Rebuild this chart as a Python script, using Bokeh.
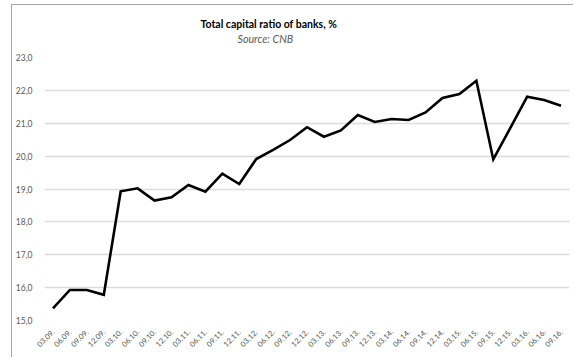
import math
from bokeh.plotting import figure
from bokeh.models import FactorRange, Range1d, FixedTicker, Title
from bokeh.embed import file_html
from bokeh.resources import INLINE

quarters = ["03.09.", "06.09.", "09.09.", "12.09.",
            "03.10.", "06.10.", "09.10.", "12.10.",
            "03.11.", "06.11.", "09.11.", "12.11.",
            "03.12.", "06.12.", "09.12.", "12.12.",
            "03.13.", "06.13.", "09.13.", "12.13.",
            "03.14.", "06.14.", "09.14.", "12.14.",
            "03.15.", "06.15.", "09.15.", "12.15.",
            "03.16.", "06.16.", "09.16."]
ratio = [15.37, 15.93, 15.93, 15.78,
         18.93, 19.02, 18.65, 18.75,
         19.12, 18.92, 19.47, 19.15,
         19.91, 20.19, 20.49, 20.88,
         20.59, 20.78, 21.25, 21.04,
         21.13, 21.10, 21.33, 21.77,
         21.89, 22.29, 19.90, 20.85,
         21.81, 21.71, 21.53]
y_ticks = [15, 16, 17, 18, 19, 20, 21, 22, 23]
y_tick_labels = {t: f"{t},0" for t in y_ticks}

p = figure(width=562, height=353,
           x_range=FactorRange(*quarters, range_padding=0),
           y_range=Range1d(15, 23),
           output_backend="svg", toolbar_location=None,
           min_border_left=31, min_border_right=5,
           min_border_top=52, min_border_bottom=38)
p.styles = {"margin-left": "11px", "margin-top": "4px",
            "border-left": "1px solid #a6a6a6", "border-top": "1px solid #a6a6a6"}

p.line(quarters, ratio, line_color="black", line_width=2.6, line_join="miter")

sub = Title(text="Source: CNB", text_font="Lato", text_font_size="8pt",
            text_font_style="italic", text_color="#595959", align="left",
            offset=193, standoff=26)
p.add_layout(sub, "above")
ttl = Title(text="Total capital ratio of banks, %", text_font="Lato",
            text_font_size="10.5px", text_font_style="bold", text_color="#000000",
            align="left", offset=156, standoff=-26)
p.add_layout(ttl, "above")

p.outline_line_color = None
p.background_fill_color = "white"
p.border_fill_color = "white"

p.xgrid.grid_line_color = None
p.ygrid.grid_line_color = "#dcdcdc"
p.ygrid.grid_line_width = 1.5
p.ygrid.ticker = FixedTicker(ticks=y_ticks)

p.yaxis.ticker = FixedTicker(ticks=y_ticks)
p.yaxis.major_label_overrides = y_tick_labels
p.yaxis.axis_line_color = None
p.yaxis.major_tick_line_color = None
p.yaxis.minor_tick_line_color = None
p.yaxis.major_label_text_font = "Lato"
p.yaxis.major_label_text_font_size = "8.5px"
p.yaxis.major_label_text_color = "#595959"
p.yaxis.major_label_standoff = 6

p.xaxis.axis_line_color = None
p.xaxis.major_tick_line_color = None
p.xaxis.minor_tick_line_color = None
p.xaxis.major_label_orientation = math.pi / 4
p.xaxis.major_label_text_font = "Lato"
p.xaxis.major_label_text_font_size = "7.5px"
p.xaxis.major_label_text_color = "#505050"
p.xaxis.major_label_standoff = 4

open("out.html", "w").write(file_html(p, INLINE))
